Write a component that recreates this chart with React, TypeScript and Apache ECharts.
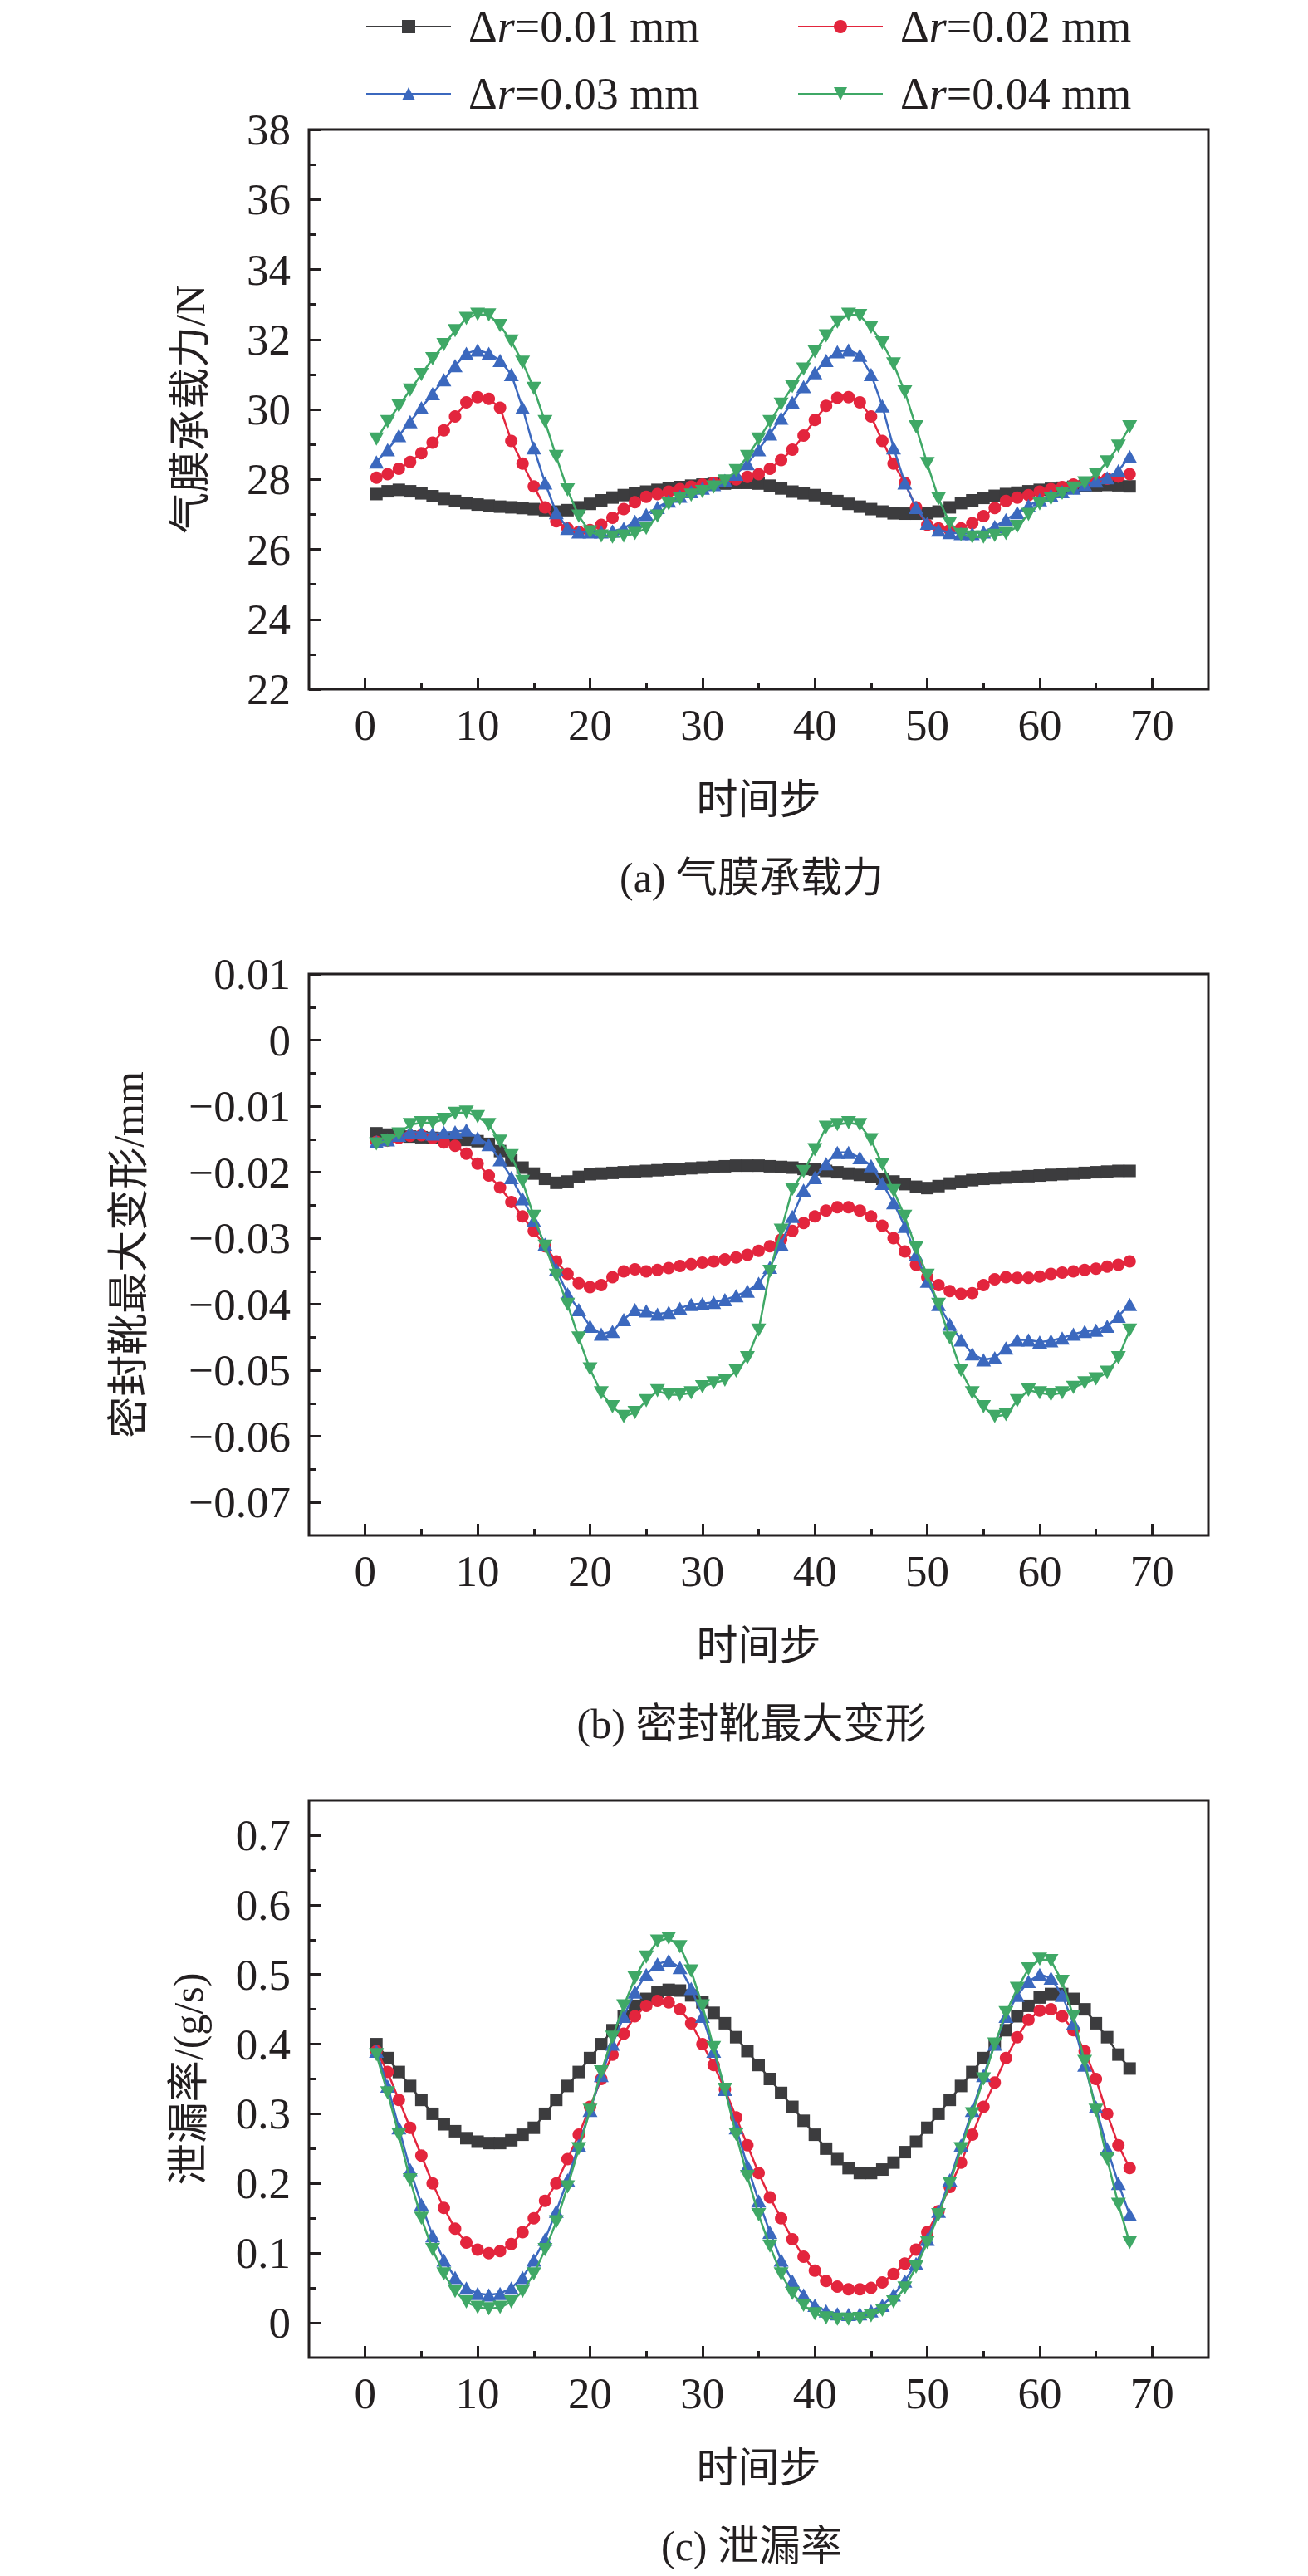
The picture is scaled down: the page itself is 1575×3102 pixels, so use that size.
import React, { useEffect, useRef } from 'react';
import * as echarts from 'echarts';

const STEPS = [1,2,3,4,5,6,7,8,9,10,11,12,13,14,15,16,17,18,19,20,21,22,23,24,25,26,27,28,29,30,31,32,33,34,35,36,37,38,39,40,41,42,43,44,45,46,47,48,49,50,51,52,53,54,55,56,57,58,59,60,61,62,63,64,65,66,67,68];
const SERIES_NAMES = ['Δr=0.01 mm', 'Δr=0.02 mm', 'Δr=0.03 mm', 'Δr=0.04 mm'];

const X_TICKS = [0, 10, 20, 30, 40, 50, 60, 70];
const X_MINOR = [5, 15, 25, 35, 45, 55, 65];
const A_TICKS = [22, 24, 26, 28, 30, 32, 34, 36, 38];
const A_MINOR = [23, 25, 27, 29, 31, 33, 35, 37];
const B_TICKS = [0.01, 0, -0.01, -0.02, -0.03, -0.04, -0.05, -0.06, -0.07];
const B_MINOR = [0.005, -0.005, -0.015, -0.025, -0.035, -0.045, -0.055, -0.065];
const C_TICKS = [0, 0.1, 0.2, 0.3, 0.4, 0.5, 0.6, 0.7];
const C_MINOR = [0.05, 0.15, 0.25, 0.35, 0.45, 0.55, 0.65];

// (a) 气膜承载力 / N
const A_R001 = [27.58,27.66,27.7,27.66,27.6,27.52,27.44,27.38,27.32,27.28,27.25,27.22,27.2,27.18,27.15,27.12,27.08,27.12,27.2,27.3,27.4,27.48,27.55,27.6,27.65,27.7,27.74,27.78,27.82,27.85,27.87,27.88,27.9,27.9,27.88,27.82,27.74,27.65,27.6,27.55,27.45,27.38,27.3,27.22,27.15,27.08,27.03,27.02,27.02,27.03,27.08,27.2,27.32,27.4,27.47,27.53,27.58,27.62,27.66,27.7,27.73,27.76,27.79,27.81,27.83,27.84,27.83,27.8];
const A_R002 = [28.05,28.15,28.3,28.5,28.75,29.05,29.4,29.8,30.2,30.35,30.3,30.05,29.1,28.45,27.8,27.2,26.8,26.6,26.5,26.55,26.7,26.9,27.15,27.35,27.5,27.58,27.65,27.72,27.79,27.85,27.9,27.95,28.0,28.07,28.15,28.3,28.55,28.85,29.25,29.7,30.1,30.33,30.35,30.2,29.8,29.1,28.45,27.9,27.2,26.7,26.6,26.55,26.6,26.75,26.95,27.18,27.38,27.48,27.55,27.65,27.72,27.78,27.85,27.9,27.96,28.02,28.08,28.15];
const A_R003 = [28.5,28.85,29.25,29.65,30.05,30.45,30.85,31.25,31.6,31.7,31.6,31.4,31.0,30.05,28.9,27.9,27.05,26.6,26.5,26.5,26.5,26.52,26.6,26.8,27.0,27.2,27.38,27.52,27.65,27.75,27.85,27.97,28.15,28.45,28.85,29.3,29.75,30.2,30.65,31.05,31.4,31.65,31.7,31.55,31.0,30.1,28.9,27.9,27.2,26.75,26.55,26.48,26.45,26.45,26.5,26.65,26.85,27.05,27.25,27.42,27.55,27.65,27.75,27.85,27.95,28.05,28.25,28.65];
const A_R004 = [29.15,29.65,30.1,30.55,31.0,31.45,31.85,32.25,32.6,32.72,32.7,32.4,31.95,31.35,30.6,29.65,28.65,27.7,26.95,26.5,26.38,26.35,26.38,26.45,26.6,26.95,27.3,27.45,27.55,27.65,27.78,27.95,28.25,28.65,29.15,29.65,30.15,30.65,31.15,31.65,32.1,32.5,32.72,32.68,32.35,31.9,31.3,30.5,29.5,28.45,27.45,26.75,26.42,26.35,26.35,26.4,26.45,26.65,27.0,27.3,27.45,27.6,27.75,27.9,28.15,28.5,28.95,29.5];

// (b) 密封靴最大变形 / mm
const B_R001 = [-0.0141,-0.0143,-0.0145,-0.0146,-0.0147,-0.0148,-0.0149,-0.015,-0.0151,-0.0153,-0.0157,-0.0168,-0.0182,-0.0193,-0.0202,-0.021,-0.0216,-0.0214,-0.0207,-0.0203,-0.0202,-0.0201,-0.02,-0.0199,-0.0198,-0.0197,-0.0196,-0.0195,-0.0194,-0.0193,-0.0192,-0.0191,-0.019,-0.019,-0.019,-0.0191,-0.0192,-0.0193,-0.0195,-0.0196,-0.0198,-0.02,-0.0202,-0.0204,-0.0207,-0.021,-0.0214,-0.0218,-0.0222,-0.0224,-0.0221,-0.0217,-0.0214,-0.0212,-0.021,-0.0209,-0.0208,-0.0207,-0.0206,-0.0205,-0.0204,-0.0203,-0.0202,-0.0201,-0.02,-0.0199,-0.0198,-0.0198];
const B_R002 = [-0.0154,-0.0152,-0.0148,-0.0145,-0.0144,-0.0148,-0.0155,-0.016,-0.0172,-0.0187,-0.0205,-0.0223,-0.0245,-0.0267,-0.0289,-0.0312,-0.0335,-0.0354,-0.0368,-0.0374,-0.0371,-0.0359,-0.035,-0.0347,-0.035,-0.0348,-0.0345,-0.0342,-0.0339,-0.0337,-0.0335,-0.0332,-0.0329,-0.0325,-0.0319,-0.0312,-0.0302,-0.0289,-0.0277,-0.0267,-0.0258,-0.0253,-0.0253,-0.0258,-0.0267,-0.0281,-0.03,-0.032,-0.034,-0.0359,-0.0371,-0.038,-0.0384,-0.0383,-0.0371,-0.0362,-0.0359,-0.036,-0.036,-0.0358,-0.0354,-0.0352,-0.035,-0.0348,-0.0346,-0.0343,-0.034,-0.0335];
const B_R003 = [-0.0154,-0.0151,-0.0144,-0.0139,-0.014,-0.0142,-0.014,-0.0139,-0.0136,-0.0148,-0.0158,-0.0181,-0.0208,-0.024,-0.0273,-0.0309,-0.0347,-0.0384,-0.0408,-0.0433,-0.0445,-0.0441,-0.0423,-0.0408,-0.041,-0.0415,-0.0412,-0.0406,-0.04,-0.0399,-0.0397,-0.0393,-0.0387,-0.038,-0.0368,-0.0344,-0.0309,-0.0267,-0.0227,-0.0208,-0.0187,-0.017,-0.017,-0.0178,-0.019,-0.0217,-0.0246,-0.0282,-0.0325,-0.0365,-0.04,-0.043,-0.0454,-0.0475,-0.0484,-0.0481,-0.0466,-0.0454,-0.0454,-0.0457,-0.0455,-0.0451,-0.0445,-0.0441,-0.0439,-0.0433,-0.0418,-0.04];
const B_R004 = [-0.0157,-0.0152,-0.0142,-0.0128,-0.0125,-0.0125,-0.012,-0.0111,-0.0109,-0.0116,-0.0128,-0.0153,-0.0175,-0.0214,-0.0267,-0.0312,-0.0356,-0.04,-0.0451,-0.0498,-0.0534,-0.0555,-0.057,-0.0564,-0.0546,-0.0531,-0.0537,-0.0537,-0.0534,-0.0525,-0.0519,-0.0515,-0.0501,-0.0481,-0.0439,-0.035,-0.0288,-0.0226,-0.0199,-0.0166,-0.0132,-0.0128,-0.0125,-0.0128,-0.0151,-0.0188,-0.0228,-0.0267,-0.0315,-0.0356,-0.04,-0.0451,-0.05,-0.0534,-0.0555,-0.057,-0.0567,-0.0546,-0.053,-0.0534,-0.0537,-0.0534,-0.0526,-0.0519,-0.0513,-0.0503,-0.0481,-0.0439];

// (c) 泄漏率 / (g/s)
const C_R001 = [0.4,0.38,0.36,0.34,0.32,0.3,0.285,0.275,0.265,0.26,0.258,0.258,0.262,0.27,0.28,0.3,0.32,0.34,0.36,0.38,0.4,0.42,0.44,0.455,0.465,0.475,0.478,0.477,0.47,0.46,0.445,0.43,0.41,0.39,0.37,0.35,0.33,0.31,0.29,0.27,0.25,0.235,0.222,0.215,0.215,0.22,0.23,0.245,0.26,0.28,0.3,0.32,0.34,0.36,0.38,0.4,0.42,0.44,0.455,0.467,0.472,0.472,0.465,0.45,0.43,0.41,0.385,0.365];
const C_R002 = [0.39,0.36,0.32,0.28,0.24,0.2,0.165,0.135,0.115,0.105,0.1,0.103,0.113,0.13,0.15,0.175,0.2,0.235,0.27,0.31,0.35,0.385,0.415,0.44,0.455,0.462,0.46,0.45,0.43,0.4,0.37,0.335,0.295,0.255,0.215,0.18,0.15,0.12,0.095,0.075,0.06,0.052,0.048,0.048,0.05,0.058,0.07,0.085,0.105,0.13,0.16,0.195,0.23,0.27,0.31,0.345,0.38,0.41,0.435,0.448,0.45,0.44,0.42,0.39,0.35,0.3,0.255,0.222];
const C_R003 = [0.39,0.34,0.28,0.22,0.17,0.125,0.09,0.065,0.05,0.042,0.04,0.042,0.05,0.065,0.09,0.12,0.16,0.205,0.255,0.305,0.355,0.4,0.44,0.475,0.5,0.515,0.52,0.51,0.48,0.44,0.39,0.335,0.28,0.225,0.175,0.13,0.09,0.06,0.04,0.025,0.017,0.013,0.012,0.013,0.017,0.025,0.04,0.06,0.085,0.12,0.16,0.205,0.255,0.305,0.355,0.4,0.44,0.47,0.49,0.5,0.495,0.47,0.43,0.37,0.31,0.25,0.2,0.155];
const C_R004 = [0.385,0.33,0.27,0.205,0.15,0.105,0.07,0.045,0.03,0.022,0.02,0.022,0.03,0.045,0.07,0.105,0.145,0.195,0.25,0.305,0.36,0.41,0.455,0.495,0.525,0.548,0.552,0.54,0.505,0.455,0.395,0.335,0.27,0.21,0.155,0.11,0.07,0.042,0.025,0.013,0.007,0.005,0.005,0.006,0.01,0.018,0.03,0.05,0.08,0.115,0.155,0.2,0.25,0.3,0.35,0.4,0.445,0.48,0.508,0.522,0.52,0.49,0.44,0.375,0.305,0.235,0.17,0.115];

const INK = '#231f20';
const FF = '"Liberation Serif", "Noto Sans CJK SC", serif';
const COLORS = ['#3c3c3e', '#e3253d', '#3b68be', '#3fa866'];
const SYMBOLS = ['rect', 'circle', 'triangle', 'path://M0,0L20,0L10,17Z'];
const SYMBOL_SIZES: any[] = [15, 15, [18, 16], [18, 16]];

const PANELS = [
  { top: 156, height: 674, yMin: 22, yMax: 38, ticks: A_TICKS, minor: A_MINOR, yName: '气膜承载力/N', nameGap: 118, caption: '(a) 气膜承载力', data: [A_R001, A_R002, A_R003, A_R004], fmt: (v: number) => String(Math.round(v)) },
  { top: 1173, height: 676, yMin: -0.075, yMax: 0.01, ticks: B_TICKS, minor: B_MINOR, yName: '密封靴最大变形/mm', nameGap: 192, caption: '(b) 密封靴最大变形', data: [B_R001, B_R002, B_R003, B_R004], fmt: (v: number) => (Math.abs(v) < 1e-9 ? '0' : (v < 0 ? '\u2212' : '') + Math.abs(v).toFixed(2)) },
  { top: 2168, height: 671, yMin: -0.05, yMax: 0.75, ticks: C_TICKS, minor: C_MINOR, yName: '泄漏率/(g/s)', nameGap: 120, caption: '(c) 泄漏率', data: [C_R001, C_R002, C_R003, C_R004], fmt: (v: number) => (Math.abs(v) < 1e-9 ? '0' : v.toFixed(1)) },
];

const GRID_LEFT = 372;
const GRID_WIDTH = 1083;

function buildOption() {
  const tickLine = { color: INK, width: 3 };
  const noLine = { show: false, onZero: false };
  const grid: any[] = [];
  const xAxis: any[] = [];
  const yAxis: any[] = [];
  const series: any[] = [];
  const graphic: any[] = [];

  PANELS.forEach((p, gi) => {
    grid.push({ left: GRID_LEFT, top: p.top, width: GRID_WIDTH, height: p.height, show: true, borderColor: INK, borderWidth: 3, backgroundColor: 'transparent' });
    xAxis.push({
      gridIndex: gi, type: 'value', min: -5, max: 75, position: 'bottom',
      axisLine: noLine, splitLine: { show: false },
      axisTick: { show: true, inside: true, length: 14, customValues: X_TICKS, lineStyle: tickLine },
      axisLabel: { show: true, customValues: X_TICKS, fontSize: 53, fontFamily: FF, color: INK, margin: 16 },
      name: '时间步', nameLocation: 'middle', nameGap: 108,
      nameTextStyle: { fontSize: 50, fontFamily: FF, color: INK },
    });
    xAxis.push({
      gridIndex: gi, type: 'value', min: -5, max: 75, position: 'bottom',
      axisLine: noLine, splitLine: { show: false },
      axisTick: { show: true, inside: true, length: 8, customValues: X_MINOR, lineStyle: tickLine },
      axisLabel: { show: false },
    });
    yAxis.push({
      gridIndex: gi, type: 'value', min: p.yMin, max: p.yMax, position: 'left',
      axisLine: noLine, splitLine: { show: false },
      axisTick: { show: true, inside: true, length: 14, customValues: p.ticks, lineStyle: tickLine },
      axisLabel: { show: true, customValues: p.ticks, fontSize: 53, fontFamily: FF, color: INK, margin: 22, formatter: p.fmt },
      name: p.yName, nameLocation: 'middle', nameGap: p.nameGap, nameRotate: 90,
      nameTextStyle: { fontSize: 50, fontFamily: FF, color: INK },
    });
    yAxis.push({
      gridIndex: gi, type: 'value', min: p.yMin, max: p.yMax, position: 'left',
      axisLine: noLine, splitLine: { show: false },
      axisTick: { show: true, inside: true, length: 8, customValues: p.minor, lineStyle: tickLine },
      axisLabel: { show: false },
    });
    p.data.forEach((arr, si) => {
      series.push({
        type: 'line', name: SERIES_NAMES[si], xAxisIndex: gi * 2, yAxisIndex: gi * 2,
        data: STEPS.map((s, i) => [s, arr[i]]),
        symbol: SYMBOLS[si], symbolSize: SYMBOL_SIZES[si], showSymbol: true,
        itemStyle: { color: COLORS[si] }, lineStyle: { color: COLORS[si], width: 2.5 },
        z: 2 + si,
      });
    });
    graphic.push({
      type: 'text', x: 905, y: p.top + p.height + 227,
      style: { text: p.caption, fontSize: 50, fontFamily: FF, fill: INK, align: 'center', verticalAlign: 'middle' },
    });
  });

  const legendPos = [
    { left: 440, top: 5 }, { left: 960, top: 5 },
    { left: 440, top: 86 }, { left: 960, top: 86 },
  ];
  const legend = SERIES_NAMES.map((n, i) => ({
    data: [n], left: legendPos[i].left, top: legendPos[i].top, padding: 0,
    itemWidth: 102, itemHeight: 20,
    formatter: (name: string) => `{n|Δ}{i|r}{n|${name.slice(2)}}`,
    textStyle: {
      padding: [0, 0, 0, 16],
      rich: {
        n: { fontSize: 54, fontFamily: FF, color: INK },
        i: { fontSize: 54, fontFamily: FF, fontStyle: 'italic', color: INK },
      },
    },
  }));

  return { animation: false, backgroundColor: '#ffffff', grid, xAxis, yAxis, series, legend, graphic };
}

export default function App() {
  const ref = useRef<HTMLDivElement>(null);
  useEffect(() => {
    document.body.style.margin = '0';
    if (!ref.current) return;
    const chart = echarts.init(ref.current, undefined, { renderer: 'svg' });
    chart.setOption(buildOption() as any);
    return () => chart.dispose();
  }, []);
  return <div ref={ref} style={{ width: 1575, height: 3102 }} />;
}
